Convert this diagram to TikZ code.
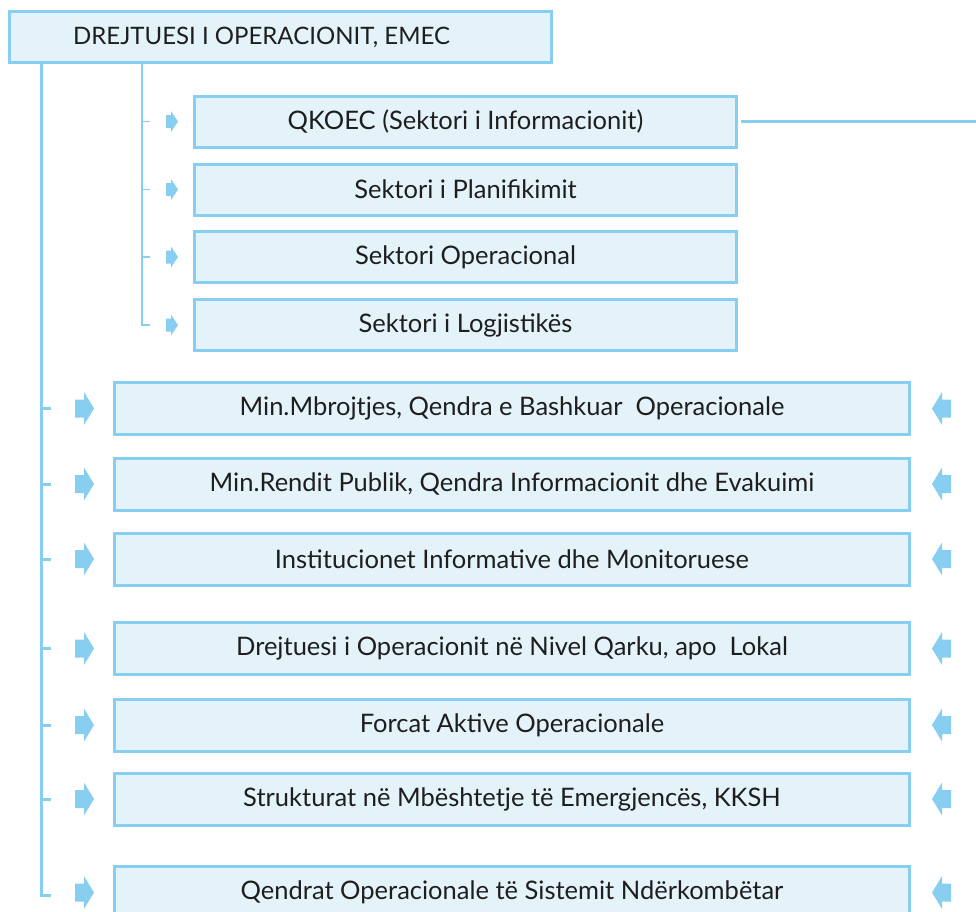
\documentclass[tikz,border=0pt]{standalone}
\usepackage{fontspec}
\setmainfont{Lato}
\definecolor{boxline}{RGB}{135,206,240}
\definecolor{boxfill}{RGB}{228,243,250}
\definecolor{textgray}{RGB}{30,30,30}

\newcommand{\pointright}[1]{\fill[boxline] (#1) -- ++(-10,16.5) -- ++(0,-7.5) -- ++(-9,0) -- ++(0,-18) -- ++(9,0) -- ++(0,-7.5) -- cycle;}
\newcommand{\pointleft}[1]{\fill[boxline] (#1) -- ++(10,16.5) -- ++(0,-7.5) -- ++(9,0) -- ++(0,-18) -- ++(-9,0) -- ++(0,-7.5) -- cycle;}
\newcommand{\smallpoint}[1]{\fill[boxline] (#1) -- ++(-7,10.5) -- ++(0,-4) -- ++(-5,0) -- ++(0,-13) -- ++(5,0) -- ++(0,-4) -- cycle;}

\begin{document}
\begin{tikzpicture}[x=1pt,y=-1pt,
    box/.style={draw=boxline,fill=boxfill,line width=3pt,inner sep=0pt,text=textgray,font=\fontsize{25.5}{29}\selectfont},
    topbox/.style={box,minimum width=542pt,minimum height=51pt},
    subbox/.style={box,minimum width=542pt,minimum height=51pt},
    bigbox/.style={box,minimum width=795pt,minimum height=52pt},
    trunkline/.style={draw=boxline,line width=3pt},
    branchline/.style={draw=boxline,line width=1.5pt}]
        \useasboundingbox (0,0) rectangle (976,911);
        \node[topbox,label={[xshift=-19pt,text=textgray,font=\fontsize{24}{28}\selectfont]center:DREJTUESI I OPERACIONIT, EMEC}] (emec) at (280.5,37) {};
        \node[subbox] (info) at (465.5,121.5) {QKOEC (Sektori i Informacionit)};
        \node[subbox] (plan) at (465.5,189.5) {Sektori i Planifikimit};
        \node[subbox] (oper) at (465.5,257) {Sektori Operacional};
        \node[subbox] (logj) at (465.5,325) {Sektori i Logjistikës};
        \node[bigbox] (mbro) at (512,408.5) {Min.Mbrojtjes, Qendra e Bashkuar \ Operacionale};
        \node[bigbox] (rend) at (512,484) {Min.Rendit Publik, Qendra Informacionit dhe Evakuimi};
        \node[bigbox] (inst) at (512,559) {Institucionet Informative dhe Monitoruese};
        \node[bigbox] (qark) at (512,648.5) {Drejtuesi i Operacionit në Nivel Qarku, apo \ Lokal};
        \node[bigbox] (forc) at (512,725) {Forcat Aktive Operacionale};
        \node[bigbox] (stru) at (512,799) {Strukturat në Mbështetje të Emergjencës, KKSH};
        \node[bigbox] (ndko) at (512,892.5) {Qendrat Operacionale të Sistemit Ndërkombëtar};
        \coordinate (trunk) at (41,64);
        \coordinate (branch) at (142,64);
        \coordinate (edge) at (976,121.5);
        \draw[trunkline] (trunk) -- (trunk |- 0,895) -- ++(10,0);
        \draw[trunkline] (trunk |- mbro) -- ++(10,0);
        \draw[trunkline] (trunk |- rend) -- ++(10,0);
        \draw[trunkline] (trunk |- inst) -- ++(10,0);
        \draw[trunkline] (trunk |- qark) -- ++(10,0);
        \draw[trunkline] (trunk |- forc) -- ++(10,0);
        \draw[trunkline] (trunk |- stru) -- ++(10,0);
        \draw[branchline] (branch) -- (branch |- logj) -- ++(8,0);
        \draw[branchline] (branch |- info) -- ++(8,0);
        \draw[branchline] (branch |- plan) -- ++(8,0);
        \draw[branchline] (branch |- oper) -- ++(8,0);
        \draw[draw=boxline,line width=2.2pt] (info.east) ++(3,0) -- (edge);
        \smallpoint{[xshift=-15pt]info.west}
        \smallpoint{[xshift=-15pt]plan.west}
        \smallpoint{[xshift=-15pt]oper.west}
        \smallpoint{[xshift=-15pt]logj.west}
        \pointright{[xshift=-19pt]mbro.west}
        \pointright{[xshift=-19pt]rend.west}
        \pointright{[xshift=-19pt]inst.west}
        \pointright{[xshift=-19pt]qark.west}
        \pointright{[xshift=-19pt]forc.west}
        \pointright{[xshift=-19pt]stru.west}
        \pointright{[xshift=-19pt]ndko.west}
        \pointleft{[xshift=21pt]mbro.east}
        \pointleft{[xshift=21pt]rend.east}
        \pointleft{[xshift=21pt]inst.east}
        \pointleft{[xshift=21pt]qark.east}
        \pointleft{[xshift=21pt]forc.east}
        \pointleft{[xshift=21pt]stru.east}
        \pointleft{[xshift=21pt]ndko.east}
    \end{tikzpicture}
\end{document}
